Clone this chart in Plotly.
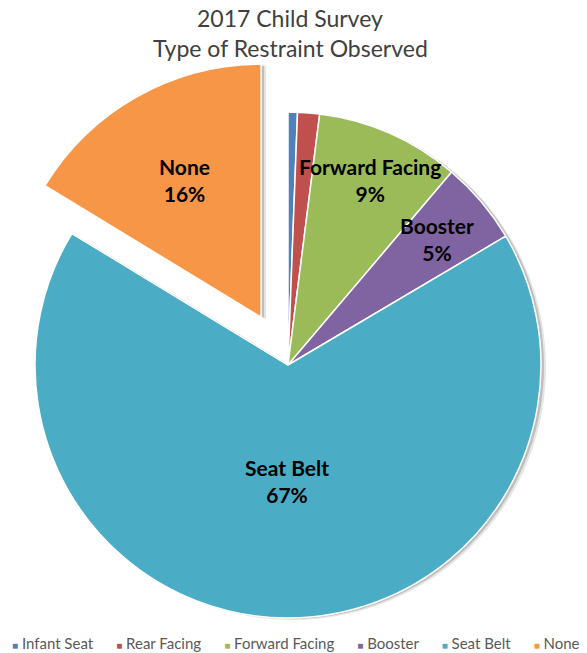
import math
import plotly.graph_objects as go

# Restraint categories observed in the 2017 child survey (share of children, %)
labels = ["Infant Seat", "Rear Facing", "Forward Facing", "Booster", "Seat Belt", "None"]
shares = [0.6, 1.4, 9.2, 5.3, 67.2, 16.3]
colors = ["#4F81BD", "#C0504D", "#9BBB59", "#8064A2", "#4BACC6", "#F79646"]
labelled = ["Forward Facing", "Booster", "Seat Belt", "None"]
exploded = "None"
title_lines = ["2017 Child Survey", "Type of Restraint Observed"]

# ---- geometry and styling -------------------------------------------------
W, H = 587, 653
CX, CY, R = 288, 365, 253          # pie centre (px from top-left) and radius
PULL = 0.217                        # explode distance as a fraction of R
SHADOWS = [(5, 2, "rgba(0,0,0,0.10)"), (3, 1, "rgba(0,0,0,0.17)")]
label_radius = {"Forward Facing": 0.80, "Booster": 0.77, "Seat Belt": 0.46, "None": 0.62}
TITLE_Y = [18, 48]                  # line centres, px from top
CLEAR = "rgba(0,0,0,0)"

total = sum(shares)
mid_angle = {}
acc = 0.0
for lab, v in zip(labels, shares):
    mid_angle[lab] = 2 * math.pi * (acc + v / 2) / total   # clockwise from 12 o'clock
    acc += v

# centre of the exploded slice, moved outward along its mid-angle
th = mid_angle[exploded]
EX = CX + PULL * R * math.sin(th)
EY = CY - PULL * R * math.cos(th)


def domain(cx, cy):
    return dict(x=[(cx - R) / W, (cx + R) / W], y=[(H - cy - R) / H, (H - cy + R) / H])


def pie(cx, cy, fill, line_col, line_w):
    return go.Pie(
        labels=labels, values=shares, sort=False, direction="clockwise", rotation=0,
        domain=domain(cx, cy), textinfo="none", hoverinfo="label+percent",
        showlegend=False,
        marker=dict(colors=fill, line=dict(color=line_col, width=line_w)),
    )


body = [c if l != exploded else CLEAR for l, c in zip(labels, colors)]
piece = [c if l == exploded else CLEAR for l, c in zip(labels, colors)]
body_line = ["white" if l != exploded else CLEAR for l in labels]
piece_line = ["white" if l == exploded else CLEAR for l in labels]

fig = go.Figure()
# soft drop shadows under the pie and the exploded slice
for dx, dy, sc in SHADOWS:
    fig.add_trace(pie(CX + dx, CY + dy, [sc if l != exploded else CLEAR for l in labels], CLEAR, 0))
    fig.add_trace(pie(EX + dx, EY + dy, [sc if l == exploded else CLEAR for l in labels], CLEAR, 0))
fig.add_trace(pie(CX, CY, body, body_line, 1.5))
fig.add_trace(pie(EX, EY, piece, piece_line, 1.5))

annotations = []

# two-line chart title
for line, ty in zip(title_lines, TITLE_Y):
    annotations.append(dict(
        x=290 / W, y=(H - ty) / H, xref="paper", yref="paper",
        xanchor="center", yanchor="middle", showarrow=False, text=line,
        font=dict(family="Lato", size=23, color="#404040"),
    ))

# slice labels: name and rounded share
for lab, v in zip(labels, shares):
    if lab not in labelled:
        continue
    cx, cy = (EX, EY) if lab == exploded else (CX, CY)
    f = label_radius[lab] * R
    x = cx + f * math.sin(mid_angle[lab])
    y = cy - f * math.cos(mid_angle[lab])
    pct = round(100 * v / total)
    annotations.append(dict(
        x=x / W, y=(H - y) / H, xref="paper", yref="paper",
        xanchor="center", yanchor="middle", showarrow=False,
        text=f"<b>{lab}</b><br><b>{pct}%</b>",
        font=dict(family="Lato", size=21, color="#000000"),
    ))

# legend row along the bottom
items = [f'<span style="color:{c};font-size:10px">\u25A0</span>\u00a0{lab}'
         for lab, c in zip(labels, colors)]
annotations.append(dict(
    x=296 / W, y=10 / H, xref="paper", yref="paper", xanchor="center", yanchor="middle",
    showarrow=False, text=("\u00a0" * 6).join(items),
    font=dict(family="Lato", size=15, color="#595959"),
))

fig.update_layout(
    width=W, height=H, margin=dict(l=0, r=0, t=0, b=0),
    paper_bgcolor="white", plot_bgcolor="white",
    annotations=annotations,
)

fig.write_html("out.html")
